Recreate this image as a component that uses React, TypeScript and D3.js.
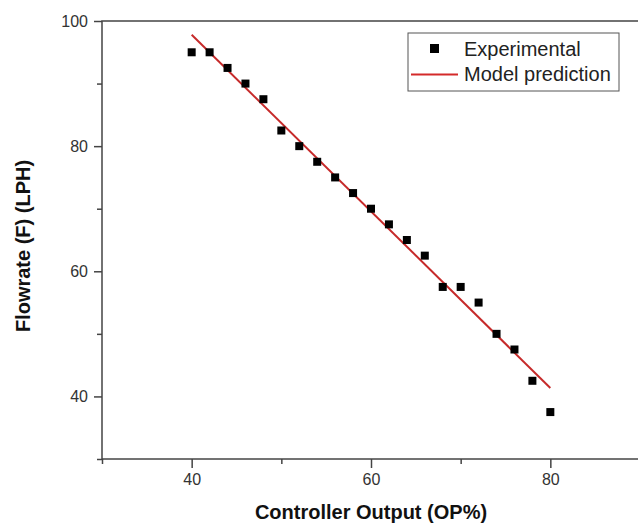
import React, { useEffect, useRef } from 'react';
import * as d3 from 'd3';

// controller output (OP%) and measured flowrate (LPH)
const opValues = [40, 42, 44, 46, 48, 50, 52, 54, 56, 58, 60, 62, 64, 66, 68, 70, 72, 74, 76, 78, 80];
const flowValues = [95, 95, 92.5, 90, 87.5, 82.5, 80, 77.5, 75, 72.5, 70, 67.5, 65, 62.5, 57.5, 57.5, 55, 50, 47.5, 42.5, 37.5];

// model prediction line end points
const modelOp = [40, 80];
const modelFlow = [97.8, 41.35];

const xMajorTicks = [40, 60, 80];
const xMinorTicks = [30, 50, 70, 90];
const yMajorTicks = [40, 60, 80, 100];
const yMinorTicks = [30, 50, 70, 90];

const legendLabels = ['Experimental', 'Model prediction'];

const App = () => {
  const svgRef = useRef<SVGSVGElement>(null);

  useEffect(() => {
    document.body.style.margin = '0';
    const width = 638;
    const height = 525;
    const margin = { top: 21, right: -2, bottom: 66, left: 102 };
    const font = 'Arial, "Liberation Sans", sans-serif';
    const axisColor = '#444';
    const red = '#c62a2a';

    const root = d3.select(svgRef.current);
    root.selectAll('*').remove();
    root.attr('width', width).attr('height', height);

    const x = d3.scaleLinear().domain([30, 90]).range([margin.left, width - margin.right]);
    const y = d3.scaleLinear().domain([30, 100]).range([height - margin.bottom, margin.top]);

    const svg = root.append('g');

    // frame
    svg.append('rect')
      .attr('x', x(30))
      .attr('y', y(100))
      .attr('width', x(90) - x(30))
      .attr('height', y(30) - y(100))
      .attr('fill', 'none')
      .attr('stroke', axisColor)
      .attr('stroke-width', 1.5);

    // X axis
    const xAxis = svg.append('g').attr('transform', `translate(0,${y(30)})`);
    xAxis.call(d3.axisBottom(x).tickValues(xMajorTicks).tickSize(9).tickPadding(6).tickFormat(d3.format('d')));
    xAxis.append('g').call(d3.axisBottom(x).tickValues(xMinorTicks).tickSize(5).tickFormat(() => ''));
    xAxis.selectAll('.domain').remove();

    // Y axis
    const yAxis = svg.append('g').attr('transform', `translate(${x(30)},0)`);
    yAxis.call(d3.axisLeft(y).tickValues(yMajorTicks).tickSize(8).tickPadding(6).tickFormat(d3.format('d')));
    yAxis.append('g').call(d3.axisLeft(y).tickValues(yMinorTicks).tickSize(5).tickFormat(() => ''));
    yAxis.selectAll('.domain').remove();

    svg.selectAll('.tick line').attr('stroke', axisColor).attr('stroke-width', 1.5);
    svg.selectAll('.tick text')
      .attr('font-family', font)
      .attr('font-size', 16)
      .attr('fill', '#333');

    // model line
    const line = d3.line<number>()
      .x((d, i) => x(modelOp[i]))
      .y(d => y(d));
    svg.append('path')
      .datum(modelFlow)
      .attr('d', line)
      .attr('fill', 'none')
      .attr('stroke', red)
      .attr('stroke-width', 2);

    // experimental points
    const s = 8;
    svg.append('g')
      .selectAll('rect')
      .data(opValues.map((v, i) => ({ op: v, flow: flowValues[i] })))
      .enter()
      .append('rect')
      .attr('x', d => x(d.op) - s / 2)
      .attr('y', d => y(d.flow) - s / 2)
      .attr('width', s)
      .attr('height', s)
      .attr('fill', '#000');

    // legend
    const legend = svg.append('g').attr('transform', 'translate(408,33)');
    legend.append('rect')
      .attr('width', 211)
      .attr('height', 58)
      .attr('fill', '#fff')
      .attr('stroke', '#555')
      .attr('stroke-width', 1);
    legend.append('rect')
      .attr('x', 22)
      .attr('y', 11)
      .attr('width', 9)
      .attr('height', 9)
      .attr('fill', '#000');
    legend.append('line')
      .attr('x1', 3)
      .attr('x2', 50)
      .attr('y1', 41.5)
      .attr('y2', 41.5)
      .attr('stroke', '#d42a2a')
      .attr('stroke-width', 2);
    legend.selectAll('text.lbl')
      .data(legendLabels)
      .enter()
      .append('text')
      .attr('class', 'lbl')
      .attr('x', 56)
      .attr('y', (d, i) => 23 + i * 25)
      .attr('font-family', font)
      .attr('font-size', 20)
      .attr('fill', '#222')
      .text(d => d);

    // X axis label
    svg.append('text')
      .attr('text-anchor', 'middle')
      .attr('x', x(60))
      .attr('y', 519)
      .attr('font-family', font)
      .attr('font-size', 20)
      .attr('font-weight', 'bold')
      .attr('fill', '#111')
      .text('Controller Output (OP%)');

    // Y axis label
    svg.append('text')
      .attr('text-anchor', 'middle')
      .attr('transform', `translate(30,${(y(30) + y(100)) / 2 + 6}) rotate(-90)`)
      .attr('font-family', font)
      .attr('font-size', 20)
      .attr('font-weight', 'bold')
      .attr('fill', '#111')
      .text('Flowrate (F) (LPH)');
  }, []);

  return <svg ref={svgRef} style={{ display: 'block' }}></svg>;
};

export default App;
